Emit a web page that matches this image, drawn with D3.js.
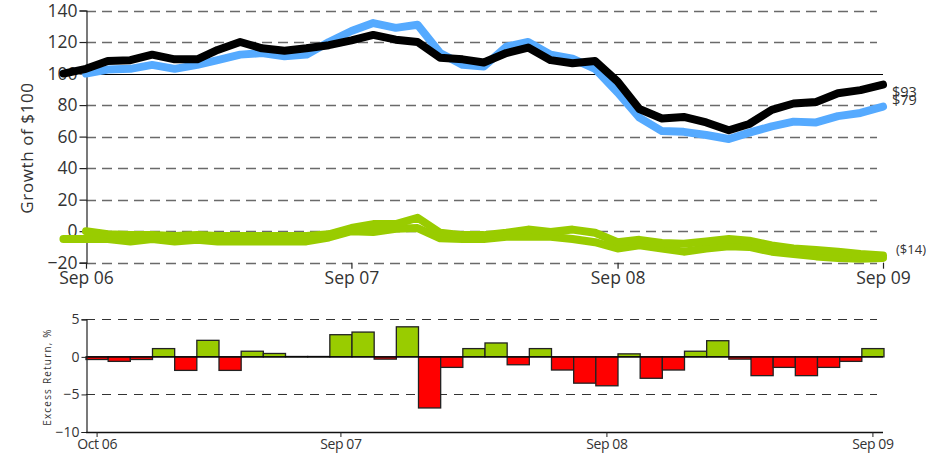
<!DOCTYPE html>
<html>
<head>
<meta charset="utf-8">
<script src="https://cdn.jsdelivr.net/npm/d3@7"></script>
<style>
  html, body { margin: 0; padding: 0; background: #fff; }
  text { font-family: "Open Sans", "DejaVu Sans", sans-serif; }
</style>
</head>
<body>
<svg id="chart" width="951" height="454"></svg>
<script>
// ---------- DATA ----------
// Fund growth of $100 (monthly, Aug 06 .. Sep 09)
const fundStart = "2006-08";
const fundGrowth = [100, 103, 108, 108.5, 112, 109, 109, 115, 120, 116, 114.5, 116, 118,
  121, 124.5, 121.5, 120, 110, 109, 107, 113, 116.5, 108.5, 106.5, 108,
  95, 77.5, 71.5, 72.5, 69, 64, 68, 77, 81, 82, 87.5, 89.5, 93];
// Benchmark growth of $100 (monthly, Sep 06 .. Sep 09)
const benchStart = "2006-09";
const benchGrowth = [100, 102.5, 103, 105.5, 103, 105.5, 108.5, 112, 113, 111, 112, 120,
  127, 132, 129, 131, 113, 105.5, 104.5, 117, 120, 112, 109.5, 103,
  88, 72, 63.5, 63, 61, 58.5, 62.5, 66.5, 69.5, 69, 73, 75, 79];
// Relative (difference) lines
const diffAStart = "2006-08";
const diffA = [-5, -5, -5, -6.5, -5, -6.5, -5.5, -6.5, -6.5, -6.5, -6.5, -6.5, -4,
  0, -0.5, 1.5, 2, -4.5, -5, -5, -3.5, -3.5, -3.5, -5, -7,
  -11, -9, -11, -13, -11, -9.5, -10, -13, -14.5, -16, -17, -17.5, -17];
const diffBStart = "2006-09";
const diffB = [0, -2, -2.5, -2.5, -3, -2.5, -3, -3, -3, -3, -3, -2,
  2, 4.5, 4.5, 8.5, -1, -2.5, -2.5, -1, 1, -0.5, 1, -1,
  -7, -5.5, -7.5, -8, -6.5, -5, -6, -9, -11, -12, -13, -14.5, -15.5];
// Monthly excess return, % (Oct 06 .. Sep 09)
const excessStart = "2006-10";
const excessReturn = [-0.35, -0.6, -0.35, 1.1, -1.8, 2.2, -1.8, 0.75, 0.45, 0.05, 0.05,
  2.95, 3.3, -0.3, 4.0, -6.8, -1.4, 1.1, 1.85, -1.05, 1.1, -1.75, -3.5, -3.85,
  0.4, -2.85, -1.75, 0.75, 2.15, -0.3, -2.5, -1.4, -2.5, -1.4, -0.6, 1.1];
const topYTicks = [140, 120, 100, 80, 60, 40, 20, 0, -20];
const topXTicks = ["2006-09", "2007-09", "2008-09", "2009-09"];
const topXTickLabels = ["Sep 06", "Sep 07", "Sep 08", "Sep 09"];
const botYTicks = [5, 0, -5, -10];
const botXTicks = ["2006-10", "2007-09", "2008-09", "2009-09"];
const botXTickLabels = ["Oct 06", "Sep 07", "Sep 08", "Sep 09"];
const endLabels = ["$93", "$79", "($14)"];
const yLabelTop = "Growth of $100";
const yLabelBot = "Excess Return, %";

// ---------- HELPERS ----------
const parseM = d3.timeParse("%Y-%m");
function monthly(start, values) {
  const s = parseM(start);
  return values.map((v, i) => ({ date: d3.timeMonth.offset(s, i), value: v }));
}

const svg = d3.select("#chart");
svg.append("rect").attr("width", 951).attr("height", 454).attr("fill", "#fff");

const textColor = "#333";
const gridColor = "#6a6a6a";

// ---------- TOP CHART ----------
const xTop = d3.scaleTime()
  .domain([parseM("2006-09"), parseM("2009-09")])
  .range([86, 883]);
const yTop = d3.scaleLinear().domain([-20, 140]).range([262.7, 10.5]);

const gTop = svg.append("g");

gTop.selectAll("line.grid").data(topYTicks.filter(d => d !== 100)).join("line")
  .attr("x1", 86).attr("x2", 877)
  .attr("y1", d => Math.round(yTop(d)) + 0.5).attr("y2", d => Math.round(yTop(d)) + 0.5)
  .attr("stroke", gridColor).attr("stroke-width", 1.4)
  .attr("stroke-dasharray", "10,6");
gTop.append("line")
  .attr("x1", 86).attr("x2", 883)
  .attr("y1", Math.round(yTop(100)) + 0.5).attr("y2", Math.round(yTop(100)) + 0.5)
  .attr("stroke", "#000").attr("stroke-width", 1);

const yAxisTop = d3.axisLeft(yTop).tickValues(topYTicks).tickSize(7).tickPadding(2).tickFormat(d3.format("d"));
const gyTop = gTop.append("g").attr("transform", "translate(86.5,0)").call(yAxisTop);
gyTop.select(".domain").attr("stroke", "#222").attr("stroke-width", 1.2);
gyTop.selectAll(".tick line").attr("stroke", "#222").attr("stroke-width", 1.2);
gyTop.selectAll(".tick text").attr("font-size", 17.5).attr("fill", textColor)
  .attr("font-family", "'Open Sans', sans-serif");

const xAxisTop = d3.axisBottom(xTop).tickValues(topXTicks.map(parseM)).tickSize(6).tickPadding(3)
  .tickFormat((d, i) => topXTickLabels[i]);
const gxTop = gTop.append("g").attr("transform", `translate(0,${yTop(-20)})`).call(xAxisTop);
gxTop.select(".domain").remove();
gxTop.selectAll(".tick line").attr("stroke", "#222").attr("stroke-width", 1.2);
gxTop.selectAll(".tick text").attr("font-size", 17.5).attr("fill", textColor)
  .attr("font-family", "'Open Sans', sans-serif");

gTop.append("text")
  .attr("transform", "translate(33,148) rotate(-90)")
  .attr("text-anchor", "middle")
  .attr("font-size", 17).attr("letter-spacing", 0.6)
  .attr("fill", textColor)
  .text(yLabelTop);

const lineTop = d3.line().x(d => xTop(d.date)).y(d => yTop(d.value)).curve(d3.curveLinear);

function drawLine(data, color) {
  gTop.append("path").datum(data)
    .attr("d", lineTop)
    .attr("fill", "none").attr("stroke", color)
    .attr("stroke-width", 8).attr("stroke-linejoin", "round").attr("stroke-linecap", "round");
}
drawLine(monthly(diffAStart, diffA), "#99cc00");
drawLine(monthly(diffBStart, diffB), "#99cc00");
drawLine(monthly(benchStart, benchGrowth), "#55aaff");
drawLine(monthly(fundStart, fundGrowth), "#000");

gTop.append("text").attr("x", 892).attr("y", 97).attr("font-size", 14.5).attr("fill", textColor).text(endLabels[0]);
gTop.append("text").attr("x", 892).attr("y", 105).attr("font-size", 14.5).attr("fill", textColor).text(endLabels[1]);
gTop.append("text").attr("x", 896).attr("y", 254).attr("font-size", 13).attr("fill", textColor).text(endLabels[2]);

// ---------- BOTTOM CHART ----------
const excess = monthly(excessStart, excessReturn);
const xBot = d3.scaleBand()
  .domain(excess.map(d => +d.date))
  .range([86, 884]).padding(0);
const yBot = d3.scaleLinear().domain([-10, 5]).range([432, 319.3]);

const gBot = svg.append("g");

gBot.selectAll("line.grid").data([5, -5]).join("line")
  .attr("x1", 86).attr("x2", 877)
  .attr("y1", d => Math.round(yBot(d)) + 0.5).attr("y2", d => Math.round(yBot(d)) + 0.5)
  .attr("stroke", "#333").attr("stroke-width", 1.2)
  .attr("stroke-dasharray", "9,7");

gBot.selectAll("rect.bar").data(excess).join("rect")
  .attr("x", d => xBot(+d.date))
  .attr("width", xBot.bandwidth())
  .attr("y", d => yBot(Math.max(0, d.value)))
  .attr("height", d => Math.abs(yBot(d.value) - yBot(0)))
  .attr("fill", d => d.value >= 0 ? "#99cc00" : "#ff0000")
  .attr("stroke", "#222").attr("stroke-width", 1.3);

gBot.append("line")
  .attr("x1", 86).attr("x2", 883)
  .attr("y1", yBot(0)).attr("y2", yBot(0))
  .attr("stroke", "#000").attr("stroke-width", 1.2);

const yAxisBot = d3.axisLeft(yBot).tickValues(botYTicks).tickSize(5).tickPadding(2).tickFormat(d3.format("d"));
const gyBot = gBot.append("g").attr("transform", "translate(86.5,0)").call(yAxisBot);
gyBot.select(".domain").attr("stroke", "#222").attr("stroke-width", 1.2);
gyBot.selectAll(".tick line").attr("stroke", "#222");
gyBot.selectAll(".tick text").attr("font-size", 14).attr("fill", textColor)
  .attr("font-family", "'Liberation Sans', sans-serif");

const gxBot = gBot.append("g").attr("transform", "translate(0,432)");
gxBot.append("line").attr("x1", 86).attr("x2", 883).attr("y1", 0.5).attr("y2", 0.5)
  .attr("stroke", "#111").attr("stroke-width", 1.5);
const botTickData = botXTicks.map((m, i) => ({ x: xBot(+parseM(m)) + xBot.bandwidth() / 2, label: botXTickLabels[i] }));
gxBot.selectAll("line.t").data(botTickData).join("line")
  .attr("x1", d => d.x).attr("x2", d => d.x).attr("y1", 0).attr("y2", 5)
  .attr("stroke", "#222");
gxBot.selectAll("text.t").data(botTickData).join("text")
  .attr("x", d => d.x).attr("y", 17)
  .attr("text-anchor", "middle")
  .attr("font-size", 14).attr("fill", textColor)
  .attr("font-family", "'Liberation Sans', sans-serif")
  .attr("letter-spacing", -0.4)
  .text(d => d.label);

gBot.append("text")
  .attr("transform", "translate(51,377) rotate(-90)")
  .attr("text-anchor", "middle")
  .attr("font-size", 10).attr("letter-spacing", 1.2)
  .attr("fill", textColor)
  .attr("font-family", "'Liberation Sans', sans-serif")
  .text(yLabelBot);
</script>
</body>
</html>
